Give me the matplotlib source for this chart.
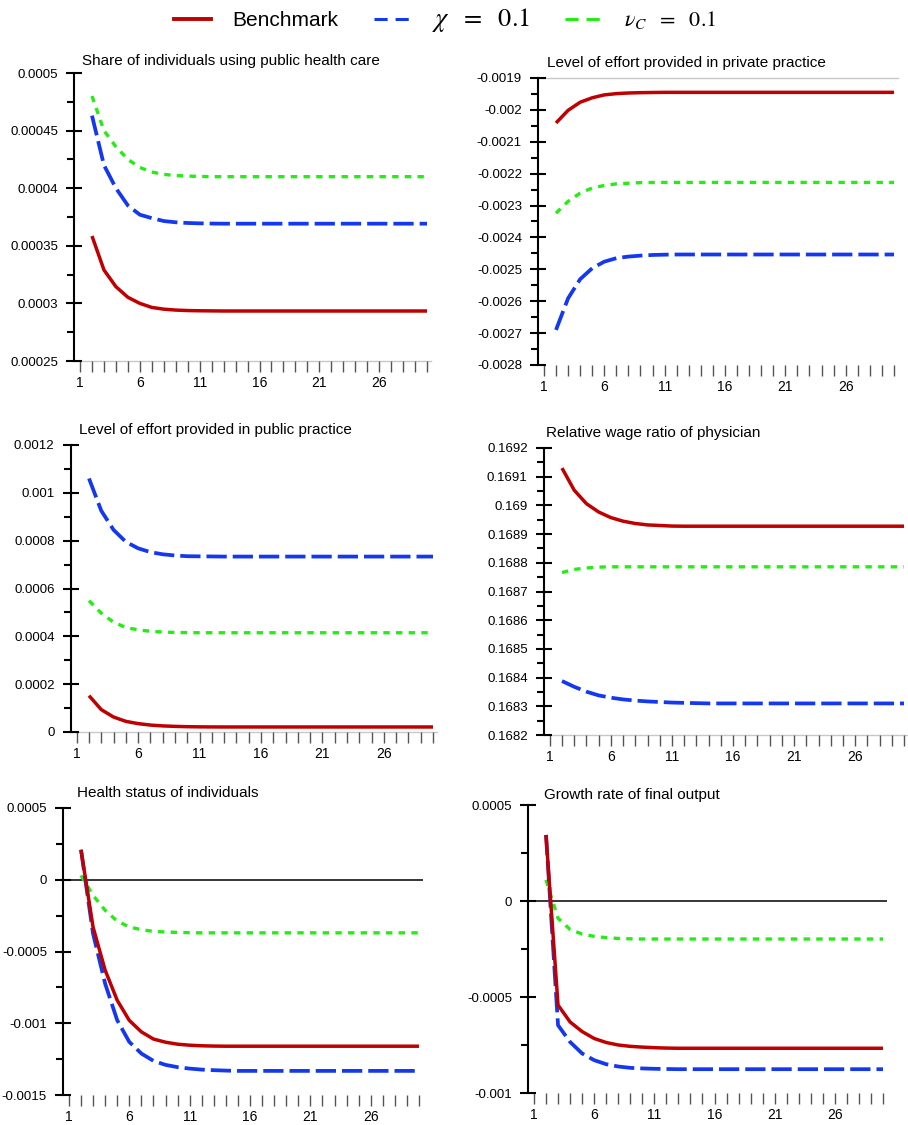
import matplotlib
matplotlib.use('Agg')
import matplotlib.pyplot as plt
from matplotlib.lines import Line2D
from matplotlib.ticker import FixedLocator, FuncFormatter

plt.rcParams['font.family'] = ['Liberation Sans', 'DejaVu Sans']
plt.rcParams['mathtext.fontset'] = 'stix'

# ---------------- data ----------------
periods = list(range(2, 31))
xticks = list(range(1, 31))
xlabels = [str(i) if (i - 1) % 5 == 0 else '' for i in xticks]

series_names = ['Benchmark', r'$\chi\ \ =\ \ 0.1$', r'$\nu_C\ \ =\ \ 0.1$']

titles = ['Share of individuals using public health care',
          'Level of effort provided in private practice',
          'Level of effort provided in public practice',
          'Relative wage ratio of physician',
          'Health status of individuals',
          'Growth rate of final output']

share_bench = [0.0003585, 0.0003290, 0.0003145, 0.0003053, 0.0003000, 0.0002965, 0.0002950, 0.0002942, 0.0002938, 0.0002936,
               0.0002935, 0.0002934, 0.0002934, 0.0002934, 0.0002934, 0.0002934, 0.0002934, 0.0002934, 0.0002934, 0.0002934,
               0.0002934, 0.0002934, 0.0002934, 0.0002934, 0.0002934, 0.0002934, 0.0002934, 0.0002934, 0.0002934]
share_chi = [0.0004630, 0.0004200, 0.0004000, 0.0003850, 0.0003770, 0.0003740, 0.0003715, 0.0003704, 0.0003698, 0.0003695,
             0.0003693, 0.0003692, 0.0003692, 0.0003692, 0.0003692, 0.0003692, 0.0003692, 0.0003692, 0.0003692, 0.0003692,
             0.0003692, 0.0003692, 0.0003692, 0.0003692, 0.0003692, 0.0003692, 0.0003692, 0.0003692, 0.0003692]
share_nu = [0.0004800, 0.0004500, 0.0004360, 0.0004250, 0.0004180, 0.0004140, 0.0004120, 0.0004110, 0.0004105, 0.0004102,
            0.0004100, 0.0004100, 0.0004100, 0.0004100, 0.0004100, 0.0004100, 0.0004100, 0.0004100, 0.0004100, 0.0004100,
            0.0004100, 0.0004100, 0.0004100, 0.0004100, 0.0004100, 0.0004100, 0.0004100, 0.0004100, 0.0004100]

priv_bench = [-0.0020410, -0.0020015, -0.0019760, -0.0019620, -0.0019530, -0.0019490, -0.0019470, -0.0019460, -0.0019455, -0.0019450,
              -0.0019450, -0.0019450, -0.0019450, -0.0019450, -0.0019450, -0.0019450, -0.0019450, -0.0019450, -0.0019450, -0.0019450,
              -0.0019450, -0.0019450, -0.0019450, -0.0019450, -0.0019450, -0.0019450, -0.0019450, -0.0019450, -0.0019450]
priv_chi = [-0.0026900, -0.0025910, -0.0025310, -0.0024965, -0.0024760, -0.0024650, -0.0024600, -0.0024570, -0.0024550, -0.0024540,
            -0.0024535, -0.0024535, -0.0024535, -0.0024535, -0.0024535, -0.0024535, -0.0024535, -0.0024535, -0.0024535, -0.0024535,
            -0.0024535, -0.0024535, -0.0024535, -0.0024535, -0.0024535, -0.0024535, -0.0024535, -0.0024535, -0.0024535]
priv_nu = [-0.0023240, -0.0022870, -0.0022610, -0.0022450, -0.0022370, -0.0022320, -0.0022300, -0.0022280, -0.0022277, -0.0022275,
           -0.0022275, -0.0022275, -0.0022275, -0.0022275, -0.0022275, -0.0022275, -0.0022275, -0.0022275, -0.0022275, -0.0022275,
           -0.0022275, -0.0022275, -0.0022275, -0.0022275, -0.0022275, -0.0022275, -0.0022275, -0.0022275, -0.0022275]

pub_bench = [0.0001520, 0.0000935, 0.0000625, 0.0000445, 0.0000350, 0.0000290, 0.0000255, 0.0000235, 0.0000222, 0.0000215,
             0.0000212, 0.0000210, 0.0000210, 0.0000210, 0.0000210, 0.0000210, 0.0000210, 0.0000210, 0.0000210, 0.0000210,
             0.0000210, 0.0000210, 0.0000210, 0.0000210, 0.0000210, 0.0000210, 0.0000210, 0.0000210, 0.0000210]
pub_chi = [0.0010600, 0.0009250, 0.0008450, 0.0007950, 0.0007680, 0.0007520, 0.0007430, 0.0007380, 0.0007350, 0.0007345,
           0.0007340, 0.0007335, 0.0007335, 0.0007335, 0.0007335, 0.0007335, 0.0007335, 0.0007335, 0.0007335, 0.0007335,
           0.0007335, 0.0007335, 0.0007335, 0.0007335, 0.0007335, 0.0007335, 0.0007335, 0.0007335, 0.0007335]
pub_nu = [0.0005490, 0.0004970, 0.0004590, 0.0004370, 0.0004270, 0.0004210, 0.0004180, 0.0004160, 0.0004155, 0.0004150,
          0.0004150, 0.0004150, 0.0004150, 0.0004150, 0.0004150, 0.0004150, 0.0004150, 0.0004150, 0.0004150, 0.0004150,
          0.0004150, 0.0004150, 0.0004150, 0.0004150, 0.0004150, 0.0004150, 0.0004150, 0.0004150, 0.0004150]

wage_bench = [0.1691300, 0.1690530, 0.1690060, 0.1689770, 0.1689575, 0.1689450, 0.1689370, 0.1689320, 0.1689300, 0.1689280,
              0.1689275, 0.1689275, 0.1689275, 0.1689275, 0.1689275, 0.1689275, 0.1689275, 0.1689275, 0.1689275, 0.1689275,
              0.1689275, 0.1689275, 0.1689275, 0.1689275, 0.1689275, 0.1689275, 0.1689275, 0.1689275, 0.1689275]
wage_chi = [0.1683880, 0.1683680, 0.1683510, 0.1683380, 0.1683300, 0.1683240, 0.1683200, 0.1683170, 0.1683150, 0.1683130,
            0.1683120, 0.1683110, 0.1683100, 0.1683100, 0.1683100, 0.1683100, 0.1683100, 0.1683100, 0.1683100, 0.1683100,
            0.1683100, 0.1683100, 0.1683100, 0.1683100, 0.1683100, 0.1683100, 0.1683100, 0.1683100, 0.1683100]
wage_nu = [0.1687660, 0.1687770, 0.1687820, 0.1687850, 0.1687860, 0.1687860, 0.1687860, 0.1687860, 0.1687860, 0.1687860,
           0.1687860, 0.1687860, 0.1687860, 0.1687860, 0.1687860, 0.1687860, 0.1687860, 0.1687860, 0.1687860, 0.1687860,
           0.1687860, 0.1687860, 0.1687860, 0.1687860, 0.1687860, 0.1687860, 0.1687860, 0.1687860, 0.1687860]

health_bench = [0.0002090, -0.0003300, -0.0006300, -0.0008400, -0.0009800, -0.0010600, -0.0011100, -0.0011320, -0.0011460, -0.0011530,
                -0.0011570, -0.0011590, -0.0011600, -0.0011600, -0.0011600, -0.0011600, -0.0011600, -0.0011600, -0.0011600, -0.0011600,
                -0.0011600, -0.0011600, -0.0011600, -0.0011600, -0.0011600, -0.0011600, -0.0011600, -0.0011600, -0.0011600]
health_chi = [0.0002090, -0.0003760, -0.0007240, -0.0009790, -0.0011300, -0.0012110, -0.0012620, -0.0012900, -0.0013060, -0.0013160,
              -0.0013230, -0.0013270, -0.0013300, -0.0013320, -0.0013320, -0.0013320, -0.0013320, -0.0013320, -0.0013320, -0.0013320,
              -0.0013320, -0.0013320, -0.0013320, -0.0013320, -0.0013320, -0.0013320, -0.0013320, -0.0013320, -0.0013320]
health_nu = [0.0000300, -0.0001090, -0.0002130, -0.0002880, -0.0003290, -0.0003480, -0.0003600, -0.0003640, -0.0003670, -0.0003690,
             -0.0003700, -0.0003700, -0.0003700, -0.0003700, -0.0003700, -0.0003700, -0.0003700, -0.0003700, -0.0003700, -0.0003700,
             -0.0003700, -0.0003700, -0.0003700, -0.0003700, -0.0003700, -0.0003700, -0.0003700, -0.0003700, -0.0003700]

growth_bench = [0.0003440, -0.0005420, -0.0006300, -0.0006800, -0.0007160, -0.0007370, -0.0007500, -0.0007570, -0.0007610, -0.0007640,
                -0.0007660, -0.0007670, -0.0007670, -0.0007670, -0.0007670, -0.0007670, -0.0007670, -0.0007670, -0.0007670, -0.0007670,
                -0.0007670, -0.0007670, -0.0007670, -0.0007670, -0.0007670, -0.0007670, -0.0007670, -0.0007670, -0.0007670]
growth_chi = [0.0003440, -0.0006470, -0.0007340, -0.0007940, -0.0008290, -0.0008500, -0.0008620, -0.0008690, -0.0008720, -0.0008740,
              -0.0008750, -0.0008760, -0.0008760, -0.0008760, -0.0008760, -0.0008760, -0.0008760, -0.0008760, -0.0008760, -0.0008760,
              -0.0008760, -0.0008760, -0.0008760, -0.0008760, -0.0008760, -0.0008760, -0.0008760, -0.0008760, -0.0008760]
growth_nu = [0.0001100, -0.0000900, -0.0001480, -0.0001720, -0.0001840, -0.0001910, -0.0001950, -0.0001970, -0.0001980, -0.0001980,
             -0.0001980, -0.0001980, -0.0001980, -0.0001980, -0.0001980, -0.0001980, -0.0001980, -0.0001980, -0.0001980, -0.0001980,
             -0.0001980, -0.0001980, -0.0001980, -0.0001980, -0.0001980, -0.0001980, -0.0001980, -0.0001980, -0.0001980]

yticks_share = [0.00025, 0.0003, 0.00035, 0.0004, 0.00045, 0.0005]
yticks_priv = [-0.0028, -0.0027, -0.0026, -0.0025, -0.0024, -0.0023, -0.0022, -0.0021, -0.002, -0.0019]
yticks_pub = [0.0, 0.0002, 0.0004, 0.0006, 0.0008, 0.001, 0.0012]
yticks_wage = [0.1682, 0.1683, 0.1684, 0.1685, 0.1686, 0.1687, 0.1688, 0.1689, 0.169, 0.1691, 0.1692]
yticks_health = [-0.0015, -0.001, -0.0005, 0.0, 0.0005]
yticks_growth = [-0.001, -0.0005, 0.0, 0.0005]

# ---------------- style ----------------
RED = '#C00000'
BLUE = '#1438F0'
GREEN = '#22EE11'
W, H = 908, 1125

fig = plt.figure(figsize=(W / 100, H / 100), dpi=100)

# layout in pixels: (x of period 2, x of period 30, top px, bottom px, title dx, title dy)
layout = [
    (92, 427, 73, 361, 8, 12),
    (556, 894, 78, 365, 9, 15),
    (89, 433, 445, 732, 8, 15),
    (562, 904, 448, 735, 2, 15),
    (81, 419, 808, 1095, 14, 15),
    (546, 883, 805, 1093, 16, 10),
]
XLO, XHI = 0.5, 30.3

panels = [
    (share_bench, share_chi, share_nu, yticks_share),
    (priv_bench, priv_chi, priv_nu, yticks_priv),
    (pub_bench, pub_chi, pub_nu, yticks_pub),
    (wage_bench, wage_chi, wage_nu, yticks_wage),
    (health_bench, health_chi, health_nu, yticks_health),
    (growth_bench, growth_chi, growth_nu, yticks_growth),
]


def fmt(v, pos=None):
    s = f'{v:.6f}'.rstrip('0').rstrip('.')
    if s in ('-0', '0', ''):
        s = '0'
    return s


for (bench, chi, nu, yt), (x2, x30, top, bot, tdx, tdy), title in zip(panels, layout, titles):
    sp = (x30 - x2) / 28.0
    left = x2 - (2 - XLO) * sp
    width = (XHI - XLO) * sp
    ax = fig.add_axes([left / W, 1 - bot / H, width / W, (bot - top) / H])
    ylo, yhi = yt[0], yt[-1]
    ax.set_xlim(XLO, XHI)
    ax.set_ylim(ylo, yhi)

    for s in ['top', 'right', 'bottom']:
        ax.spines[s].set_visible(False)
    ax.spines['left'].set_linewidth(1.5)
    ax.spines['left'].set_color('black')

    if ylo < 0 < yhi:
        ax.axhline(0, color='black', lw=1.1, zorder=1)
    else:
        base = ylo if ylo >= 0 else yhi
        ax.axhline(base, color='#C8C8C8', lw=1.0, zorder=1, clip_on=False)

    ax.plot(periods, nu, color=GREEN, lw=2.4, linestyle=(0, (1.9, 1.9)), zorder=3)
    ax.plot(periods, chi, color=BLUE, lw=2.7, linestyle=(0, (5.4, 1.6)), zorder=4)
    ax.plot(periods, bench, color=RED, lw=2.5, solid_capstyle='butt', zorder=5)

    ax.yaxis.set_major_locator(FixedLocator(yt))
    minors = [(a + b) / 2 for a, b in zip(yt[:-1], yt[1:])]
    ax.yaxis.set_minor_locator(FixedLocator(minors))
    ax.yaxis.set_major_formatter(FuncFormatter(fmt))
    ax.tick_params(axis='y', which='major', direction='inout', length=12, width=1.5,
                   labelsize=9.5, pad=5.5, color='black')
    ax.tick_params(axis='y', which='minor', direction='out', length=5, width=1.5, color='black')

    ax.set_xticks(xticks)
    ax.set_xticklabels(xlabels)
    ax.tick_params(axis='x', which='major', direction='out', length=8, width=1.0,
                   color='#555555', labelsize=10, pad=3)

    ax.annotate(title, xy=(0, 1), xycoords='axes fraction', xytext=(tdx, tdy),
                textcoords='offset pixels', ha='left', va='center', fontsize=11)

# legend
h1 = Line2D([], [], color=RED, lw=2.8)
h2 = Line2D([], [], color=BLUE, lw=2.2, linestyle=(0, (4.3, 2.6)))
h3 = Line2D([], [], color=GREEN, lw=2.2, linestyle=(0, (4.3, 2.6)))
leg = fig.legend([h1, h2, h3], series_names, loc='center', bbox_to_anchor=(0.49, 0.982),
                 ncol=3, frameon=False, fontsize=15, handlelength=1.8, handletextpad=1.0,
                 columnspacing=1.7)
leg.get_texts()[1].set_fontsize(19)
leg.get_texts()[2].set_fontsize(16)

fig.savefig('out.png', dpi=100)
